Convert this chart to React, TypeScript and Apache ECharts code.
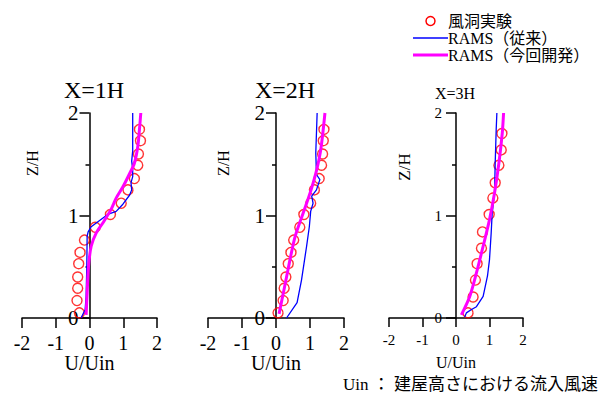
import React, { useEffect, useRef } from "react";
import * as echarts from "echarts";

// ---- data (U/Uin, Z/H) ----
const exp1 = [
  [1.48, 1.84], [1.51, 1.73], [1.45, 1.6], [1.43, 1.49], [1.33, 1.36], [1.14, 1.25],
  [0.94, 1.12], [0.62, 1.01], [0.17, 0.885], [-0.15, 0.76], [-0.28, 0.64], [-0.32, 0.53],
  [-0.35, 0.4], [-0.35, 0.29], [-0.37, 0.17], [-0.3, 0.05],
];
const old1 = [
  [-0.25, 0], [-0.13, 0.08], [-0.1, 0.21], [-0.08, 0.5], [-0.07, 0.8], [-0.04, 0.84],
  [0.05, 0.89], [0.25, 0.94], [0.54, 1.01], [0.79, 1.04], [0.99, 1.11], [1.19, 1.2],
  [1.25, 1.25], [1.23, 1.32], [1.28, 1.38], [1.28, 1.45], [1.25, 1.53], [1.28, 1.63],
  [1.28, 1.74], [1.28, 2.0],
];
const new1 = [
  [-0.1, 0.03], [-0.07, 0.24], [-0.03, 0.5], [0.05, 0.7], [0.2, 0.83], [0.4, 0.93],
  [0.64, 1.06], [0.79, 1.17], [0.99, 1.28], [1.19, 1.41], [1.33, 1.51], [1.43, 1.67],
  [1.48, 1.84], [1.52, 2.0],
];

const exp2 = [
  [1.41, 1.84], [1.39, 1.73], [1.37, 1.6], [1.34, 1.49], [1.27, 1.36], [1.13, 1.25],
  [1.02, 1.12], [0.82, 1.01], [0.7, 0.885], [0.52, 0.76], [0.44, 0.64], [0.36, 0.53],
  [0.29, 0.4], [0.24, 0.29], [0.21, 0.17], [0.06, 0.05],
];
const old2 = [
  [0.31, 0], [0.62, 0.15], [0.75, 0.37], [0.9, 0.7], [0.98, 0.89], [1.02, 1.04],
  [1.09, 1.12], [1.05, 1.19], [1.19, 1.25], [1.29, 1.35], [1.19, 1.4], [1.17, 1.61],
  [1.21, 2.0],
];
const new2 = [
  [0.09, 0.04], [0.25, 0.3], [0.4, 0.55], [0.55, 0.78], [0.72, 0.95], [0.88, 1.1],
  [1.05, 1.27], [1.2, 1.45], [1.32, 1.65], [1.44, 2.0],
];

const exp3 = [
  [1.37, 1.8], [1.35, 1.64], [1.28, 1.49], [1.17, 1.32], [1.1, 1.17], [0.99, 1.01],
  [0.79, 0.84], [0.76, 0.68], [0.63, 0.53], [0.58, 0.37], [0.51, 0.205], [0.36, 0.05],
];
const old3 = [
  [0.26, 0.01], [0.31, 0.05], [0.45, 0.08], [0.61, 0.11], [0.81, 0.21], [0.94, 0.41],
  [1.0, 0.57], [1.05, 0.83], [1.08, 1.02], [1.15, 1.22], [1.17, 1.51], [1.2, 1.84],
  [1.22, 2.0],
];
const new3 = [
  [0.16, 0.03], [0.41, 0.21], [0.61, 0.44], [0.81, 0.7], [1.0, 0.96], [1.15, 1.22],
  [1.28, 1.51], [1.38, 1.8], [1.42, 2.0],
];

const titles = ["X=1H", "X=2H", "X=3H"];
const legendNames = ["風洞実験", "RAMS（従来）", "RAMS（今回開発）"];
const xName = "U/Uin";
const yName = "Z/H";
const footnote = "Uin ： 建屋高さにおける流入風速";

const SERIF = "Liberation Serif";
const MIX = "Liberation Serif, Noto Sans CJK JP, serif";

export default function App() {
  const ref = useRef<HTMLDivElement>(null);
  useEffect(() => {
    if (!ref.current) return;
    const chart = echarts.init(ref.current, undefined, { renderer: "svg" });

    const grids = [
      { left: 22, top: 113, width: 135, height: 205 },
      { left: 208, top: 113, width: 136, height: 205 },
      { left: 389, top: 113, width: 134, height: 205 },
    ];
    const big = [true, true, false];
    const exps = [exp1, exp2, exp3];
    const olds = [old1, old2, old3];
    const news = [new1, new2, new3];

    const xAxis = grids.map((_, i) => ({
      type: "value",
      gridIndex: i,
      min: -2,
      max: 2,
      interval: 1,
      name: xName,
      nameLocation: "middle",
      nameMoveOverlap: false,
      nameGap: big[i] ? 35 : 36,
      nameTextStyle: { fontFamily: SERIF, fontSize: big[i] ? 20 : 16, color: "#000" },
      axisLine: { show: true, onZero: false, lineStyle: { color: "#000", width: 1.5 } },
      axisTick: { show: true, inside: false, length: big[i] ? 10 : 9, lineStyle: { color: "#000", width: 1.5 } },
      axisLabel: {
        fontFamily: SERIF,
        fontSize: big[i] ? 20 : 15,
        color: "#000",
        margin: big[i] ? 15 : 14,
      },
      splitLine: { show: false },
    }));

    const yAxis = grids.map((g, i) => ({
      type: "value",
      gridIndex: i,
      position: "left",
      min: 0,
      max: 2,
      interval: 1,
      offset: -g.width / 2,
      axisLine: { show: true, onZero: false, lineStyle: { color: "#000", width: 1.5 } },
      axisTick: { show: true, length: 10, lineStyle: { color: "#000", width: 1.5 } },
      minorTick: { show: true, splitNumber: 2, length: 4, lineStyle: { color: "#000", width: 1.5 } },
      axisLabel: { fontFamily: SERIF, fontSize: big[i] ? 21 : 15, color: "#000", margin: big[i] ? 11 : 14 },
      splitLine: { show: false },
      minorSplitLine: { show: false },
    }));

    const series: any[] = [];
    grids.forEach((_, i) => {
      series.push({
        name: legendNames[0],
        type: "scatter",
        xAxisIndex: i,
        yAxisIndex: i,
        data: exps[i],
        symbol: "circle",
        symbolSize: 10,
        itemStyle: { color: "rgba(0,0,0,0)", borderColor: "#ff0000", borderWidth: 1.4 },
        z: 3,
      });
      series.push({
        name: legendNames[1],
        type: "line",
        xAxisIndex: i,
        yAxisIndex: i,
        data: olds[i],
        showSymbol: false,
        symbol: "none",
        lineStyle: { color: "#0000ff", width: 1.3 },
        z: 4,
      });
      series.push({
        name: legendNames[2],
        type: "line",
        xAxisIndex: i,
        yAxisIndex: i,
        data: news[i],
        showSymbol: false,
        symbol: "none",
        smooth: 0.3,
        lineStyle: { color: "#ff00ff", width: 3 },
        z: 5,
      });
    });

    const title = [
      { text: titles[0], left: 94, top: 78, textAlign: "center", textStyle: { fontFamily: SERIF, fontSize: 24, fontWeight: "normal", color: "#000" } },
      { text: titles[1], left: 285, top: 78, textAlign: "center", textStyle: { fontFamily: SERIF, fontSize: 24, fontWeight: "normal", color: "#000" } },
      { text: titles[2], left: 455, top: 85, textAlign: "center", textStyle: { fontFamily: SERIF, fontSize: 16, fontWeight: "normal", color: "#000" } },
    ].map((t) => ({ ...t, padding: 0 }));

    const yNamePos = [
      [32, 163, 16],
      [223, 163, 16],
      [404, 167, 17],
    ];

    const graphic: any[] = [
      // legend
      { type: "circle", shape: { cx: 430.5, cy: 21, r: 4.5 }, style: { fill: "none", stroke: "#ff0000", lineWidth: 1.5 } },
      { type: "text", x: 448, y: 21, style: { text: legendNames[0], fontFamily: MIX, fontSize: 16, fill: "#000", verticalAlign: "middle" } },
      { type: "line", shape: { x1: 413, y1: 38, x2: 448, y2: 38 }, style: { stroke: "#0000ff", lineWidth: 1.5 } },
      { type: "text", x: 448, y: 38, style: { text: legendNames[1], fontFamily: MIX, fontSize: 16, fill: "#000", verticalAlign: "middle" } },
      { type: "line", shape: { x1: 413, y1: 55, x2: 448, y2: 55 }, style: { stroke: "#ff00ff", lineWidth: 3 } },
      { type: "text", x: 448, y: 55, style: { text: legendNames[2], fontFamily: MIX, fontSize: 16, fill: "#000", verticalAlign: "middle" } },
      // footnote
      { type: "text", x: 343, y: 384, style: { text: footnote, fontFamily: MIX, fontSize: 17, fill: "#000", verticalAlign: "middle" } },
      ...yNamePos.map(([x, y, fs]) => ({
        type: "text",
        x,
        y,
        rotation: Math.PI / 2,
        style: { text: yName, fontFamily: SERIF, fontSize: fs, fill: "#000", align: "center", verticalAlign: "middle" },
      })),
    ];

    chart.setOption({
      animation: false,
      backgroundColor: "#fff",
      textStyle: { fontFamily: SERIF, color: "#000" },
      title,
      grid: grids,
      xAxis,
      yAxis,
      series,
      graphic,
    });
    return () => chart.dispose();
  }, []);
  return <div ref={ref} style={{ position: "fixed", left: 0, top: 0, width: 608, height: 399 }} />;
}
